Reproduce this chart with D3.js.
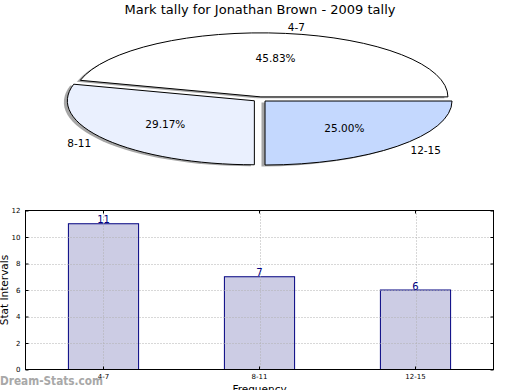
<!DOCTYPE html>
<html>
<head>
<meta charset="utf-8">
<script src="https://cdn.jsdelivr.net/npm/d3@7"></script>
<style>
  body { margin: 0; background: #fff; }
  text { font-family: "DejaVu Sans", sans-serif; }
</style>
</head>
<body>
<div id="chart"></div>
<script>
const categories = ["4-7", "8-11", "12-15"];
const counts = [11, 7, 6];
const sliceColors = ["#ffffff", "#eaf0fe", "#c4d8fe"];
const yTicks = [0, 2, 4, 6, 8, 10, 12];
const titleText = "Mark tally for Jonathan Brown - 2009 tally";

const W = 520, H = 390;
const svg = d3.select("#chart").append("svg")
    .attr("width", W)
    .attr("height", H);

// ---------- pie (flattened ellipse) ----------
svg.append("text")
  .attr("x", 260).attr("y", 14)
  .attr("text-anchor", "middle")
  .attr("font-size", 13)
  .text(titleText);

const cx = 260, cy = 99.3, rx = 187, ry = 64;
const explode = 0.038;
const total = d3.sum(counts);

// matplotlib style: start at 3 o'clock, go counter-clockwise
const pie = d3.pie().sort(null)
  .startAngle(Math.PI / 2)
  .endAngle(-1.5 * Math.PI);
const arcs = pie(counts);
const arcUnit = d3.arc().innerRadius(0).outerRadius(1);

const centerOf = function(d) {
  const mid = (d.startAngle + d.endAngle) / 2;
  return [cx + explode * rx * Math.sin(mid), cy - explode * ry * Math.cos(mid)];
};

const gPie = svg.append("g");

// shadows behind all wedges
gPie.selectAll("path.shadow")
  .data(arcs)
  .enter()
  .append("path")
    .attr("class", "shadow")
    .attr("d", arcUnit)
    .attr("transform", d => {
      const c = centerOf(d);
      return `translate(${c[0] - 3.5}, ${c[1] + 1.4}) scale(${rx}, ${ry})`;
    })
    .attr("fill", "#4d4d4d")
    .attr("fill-opacity", 0.5);

gPie.selectAll("path.wedge")
  .data(arcs)
  .enter()
  .append("path")
    .attr("class", "wedge")
    .attr("d", arcUnit)
    .attr("transform", d => {
      const c = centerOf(d);
      return `translate(${c[0]}, ${c[1]}) scale(${rx}, ${ry})`;
    })
    .attr("fill", (d, i) => sliceColors[i])
    .attr("stroke", "#000")
    .attr("stroke-width", 1)
    .attr("vector-effect", "non-scaling-stroke");

gPie.selectAll("text.pct")
  .data(arcs)
  .enter()
  .append("text")
    .attr("class", "pct")
    .attr("x", d => centerOf(d)[0] + 0.6 * rx * Math.sin((d.startAngle + d.endAngle) / 2))
    .attr("y", d => centerOf(d)[1] - 0.6 * ry * Math.cos((d.startAngle + d.endAngle) / 2))
    .attr("dy", "0.35em")
    .attr("text-anchor", "middle")
    .attr("font-size", 10.5)
    .text(d => d3.format(".2f")(d.value / total * 100) + "%");

gPie.selectAll("text.lbl")
  .data(arcs)
  .enter()
  .append("text")
    .attr("class", "lbl")
    .attr("x", d => centerOf(d)[0] + 1.1 * rx * Math.sin((d.startAngle + d.endAngle) / 2))
    .attr("y", d => centerOf(d)[1] - 1.1 * ry * Math.cos((d.startAngle + d.endAngle) / 2))
    .attr("dy", "0.35em")
    .attr("text-anchor", d => Math.sin((d.startAngle + d.endAngle) / 2) > 0 ? "start" : "end")
    .attr("font-size", 10.5)
    .text((d, i) => categories[i]);

// ---------- bar chart ----------
const bx0 = 25.5, bx1 = 493.5, by0 = 210.5, by1 = 369.5;

const x = d3.scaleBand()
  .domain(categories)
  .range([bx0, bx1])
  .paddingInner(0.55)
  .paddingOuter(0.275);

const y = d3.scaleLinear()
  .domain([0, 12])
  .range([by1, by0]);

const gBar = svg.append("g");

gBar.selectAll("rect.bar")
  .data(counts)
  .enter()
  .append("rect")
    .attr("class", "bar")
    .attr("x", (d, i) => x(categories[i]))
    .attr("y", d => y(d))
    .attr("width", x.bandwidth())
    .attr("height", d => y(0) - y(d))
    .attr("fill", "#ccccE4")
    .attr("stroke", "#000080")
    .attr("stroke-width", 1);

// grid (drawn over bars)
gBar.selectAll("line.hgrid")
  .data(yTicks.slice(1, -1))
  .enter()
  .append("line")
    .attr("x1", bx0).attr("x2", bx1)
    .attr("y1", d => Math.round(y(d)) + 0.5)
    .attr("y2", d => Math.round(y(d)) + 0.5)
    .attr("stroke", "#b0b0b0")
    .attr("stroke-dasharray", "1,2");

gBar.selectAll("line.vgrid")
  .data(categories)
  .enter()
  .append("line")
    .attr("x1", d => Math.round(x(d) + x.bandwidth() / 2) + 0.5)
    .attr("x2", d => Math.round(x(d) + x.bandwidth() / 2) + 0.5)
    .attr("y1", by0).attr("y2", by1)
    .attr("stroke", "#b0b0b0")
    .attr("stroke-dasharray", "1,2");

// axes
const yAxisL = gBar.append("g")
  .attr("transform", `translate(${bx0}, 0)`)
  .call(d3.axisLeft(y).tickValues(yTicks).tickSize(-3).tickPadding(5));
const yAxisR = gBar.append("g")
  .attr("transform", `translate(${bx1}, 0)`)
  .call(d3.axisRight(y).tickValues(yTicks).tickSize(-3).tickFormat(""));
const xAxisB = gBar.append("g")
  .attr("transform", `translate(0, ${by1})`)
  .call(d3.axisBottom(x).tickSize(-3).tickPadding(5));
const xAxisT = gBar.append("g")
  .attr("transform", `translate(0, ${by0})`)
  .call(d3.axisTop(x).tickSize(-3).tickFormat(""));

[yAxisL, yAxisR, xAxisB, xAxisT].forEach(a => {
  a.select(".domain").remove();
  a.selectAll("line").attr("stroke", "#000");
  a.selectAll("text")
    .attr("font-family", "DejaVu Sans, sans-serif")
    .attr("font-size", 7)
    .attr("fill", "#000");
});

gBar.append("rect")
  .attr("x", bx0).attr("y", by0)
  .attr("width", bx1 - bx0).attr("height", by1 - by0)
  .attr("fill", "none")
  .attr("stroke", "#000")
  .attr("stroke-width", 1);

gBar.selectAll("text.val")
  .data(counts)
  .enter()
  .append("text")
    .attr("class", "val")
    .attr("x", (d, i) => x(categories[i]) + x.bandwidth() / 2)
    .attr("y", d => y(d) - 0.5)
    .attr("text-anchor", "middle")
    .attr("font-size", 10)
    .attr("fill", "#000080")
    .text(d => d);

svg.append("text")
  .attr("transform", `translate(8, ${(by0 + by1) / 2}) rotate(-90)`)
  .attr("text-anchor", "middle")
  .attr("font-size", 10.5)
  .text("Stat Intervals");

svg.append("text")
  .attr("x", (bx0 + bx1) / 2)
  .attr("y", 393)
  .attr("text-anchor", "middle")
  .attr("font-size", 10.5)
  .text("Frequency");

svg.append("text")
  .attr("x", 0)
  .attr("y", 385)
  .attr("font-size", 12)
  .attr("font-weight", "bold")
  .attr("fill", "#a8a8a8")
  .attr("textLength", 103)
  .attr("lengthAdjust", "spacingAndGlyphs")
  .text("Dream-Stats.com");
</script>
</body>
</html>
